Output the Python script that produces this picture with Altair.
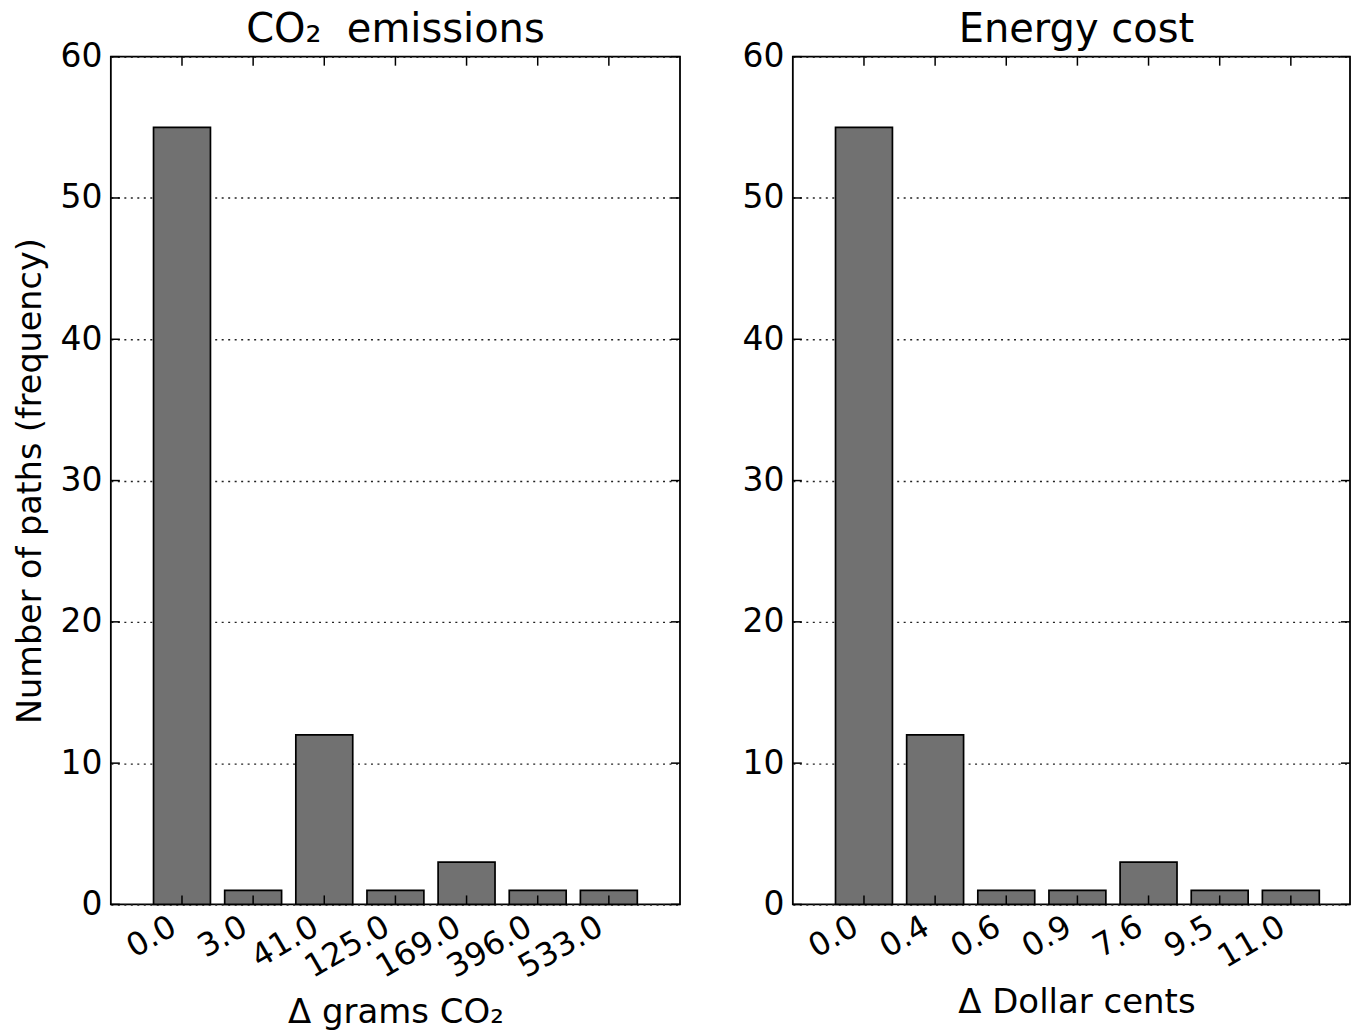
import altair as alt
import pandas as pd

co2_labels = ["0.0", "3.0", "41.0", "125.0", "169.0", "396.0", "533.0"]
co2_counts = [55, 1, 12, 1, 3, 1, 1]
cost_labels = ["0.0", "0.4", "0.6", "0.9", "7.6", "9.5", "11.0"]
cost_counts = [55, 12, 1, 1, 3, 1, 1]
y_ticks = [0, 10, 20, 30, 40, 50, 60]

H = 849
STEP = 570 / 8.0
TL = 9
FONT = "DejaVu Sans"


def panel(labels, counts, title, xtitle, show_ytitle, W, shift):
    df = pd.DataFrame({"label": labels, "count": counts})
    yt = pd.DataFrame({"count": y_ticks})
    n = len(labels)
    pi = 0.2
    po = (W / STEP - (n - pi)) / 2.0
    spare = W - STEP * (n - pi)
    align = (0.6 * STEP) / spare
    xscale = alt.Scale(paddingInner=pi, paddingOuter=po, align=align)
    yscale = alt.Scale(domain=[0, 60], nice=False, zero=True)
    ytitle = "Number of paths (frequency)" if show_ytitle else None
    yaxis = alt.Axis(
        values=y_ticks, grid=True, gridDash=[2, 4.5], gridColor="#222222",
        gridWidth=1.4, ticks=False, domain=False, labelPadding=9,
        labelFontSize=33, labelColor="black", labelFont=FONT,
        titleFontSize=33.5, titleFont=FONT, titleFontWeight="normal",
        titleColor="black", titlePadding=12, title=ytitle,
    )
    xaxis = alt.Axis(labelAngle=330, labelAlign="right",
                     labelBaseline="bottom", labelPadding=34,
                     labelOverlap=False, ticks=False, domain=False,
                     grid=False, labelFontSize=32, labelFont=FONT,
                     labelColor="black", title=xtitle,
                     titleFontSize=34, titleFont=FONT,
                     titleFontWeight="normal", titleColor="black",
                     titlePadding=12, titleX=W / 2.0 + shift)
    X = alt.X("label:N", sort=labels, scale=xscale, axis=xaxis)
    Y = alt.Y("count:Q", scale=yscale, axis=yaxis)
    bars = alt.Chart(df).mark_bar(
        color="#717171", stroke="black", strokeWidth=1.7
    ).encode(x=X, y=Y)
    tick_style = dict(color="black", strokeWidth=1.5)
    yl = alt.Chart(yt).mark_rule(**tick_style).encode(
        y=Y, x=alt.value(0), x2=alt.value(TL))
    yr = alt.Chart(yt).mark_rule(**tick_style).encode(
        y=Y, x=alt.value(W - TL), x2=alt.value(W))
    xt = alt.Chart(df).mark_rule(**tick_style).encode(
        x=X, y=alt.value(0), y2=alt.value(TL))
    xb = alt.Chart(df).mark_rule(**tick_style).encode(
        x=X, y=alt.value(H - TL), y2=alt.value(H))
    return alt.layer(bars, yl, yr, xt, xb).properties(
        width=W, height=H,
        title=alt.TitleParams(title, fontSize=40, font=FONT, frame="group",
                              fontWeight="normal", color="black",
                              offset=-9, dx=shift),
    )


left = panel(co2_labels, co2_counts, "CO\u2082\u00a0 emissions",
             "\u0394 grams CO\u2082", True, 570, 0)
right = panel(cost_labels, cost_counts, "Energy cost",
              "\u0394 Dollar cents", False, 558, 5)

chart = alt.hconcat(left, right, spacing=113, bounds="flush").properties(
    padding={"left": 5, "top": 0, "right": 0, "bottom": 0}
).configure(
    font=FONT, background="white"
).configure_view(
    stroke="black", strokeWidth=1.8
)

chart.save("out.html", embed_options={"renderer": "svg", "actions": False})
